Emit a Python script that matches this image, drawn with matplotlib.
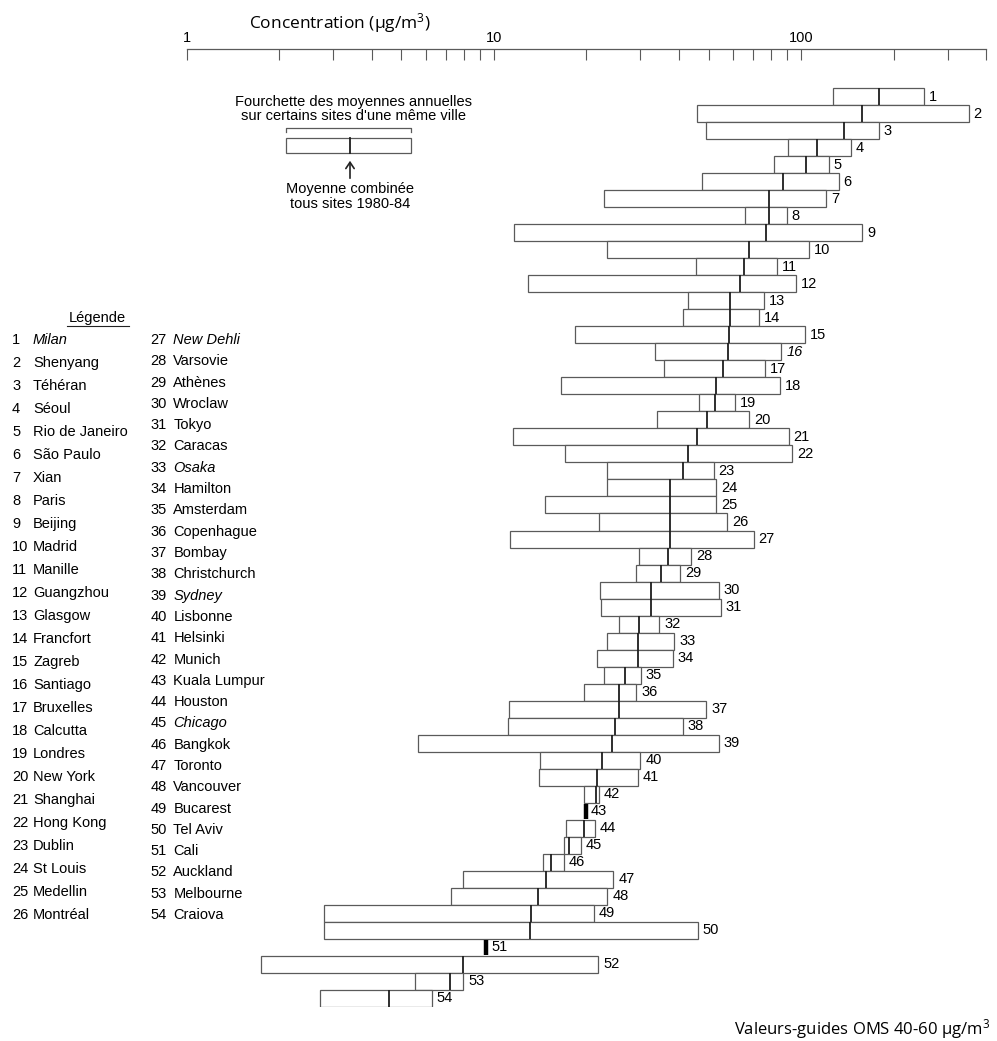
import numpy as np
import matplotlib
matplotlib.use("Agg")
import matplotlib.pyplot as plt
from matplotlib.patches import Rectangle
from matplotlib.ticker import FixedLocator, FixedFormatter, NullFormatter

plt.rcParams['font.family'] = ['Liberation Sans', 'DejaVu Sans']
plt.rcParams['mathtext.fontset'] = 'custom'
plt.rcParams['mathtext.rm'] = 'Open Sans'
plt.rcParams['mathtext.it'] = 'Open Sans:italic'

# ---------------- data ----------------
cities = ["Milan", "Shenyang", "Téhéran", "Séoul", "Rio de Janeiro", "São Paulo",
          "Xian", "Paris", "Beijing", "Madrid", "Manille", "Guangzhou", "Glasgow",
          "Francfort", "Zagreb", "Santiago", "Bruxelles", "Calcutta", "Londres",
          "New York", "Shanghai", "Hong Kong", "Dublin", "St Louis", "Medellin",
          "Montréal", "New Dehli", "Varsovie", "Athènes", "Wroclaw", "Tokyo",
          "Caracas", "Osaka", "Hamilton", "Amsterdam", "Copenhague", "Bombay",
          "Christchurch", "Sydney", "Lisbonne", "Helsinki", "Munich",
          "Kuala Lumpur", "Houston", "Chicago", "Bangkok", "Toronto", "Vancouver",
          "Bucarest", "Tel Aviv", "Cali", "Auckland", "Melbourne", "Craiova"]

vmin = [126.7, 46.0, 49.1, 90.4, 81.4, 47.5, 22.9, 65.5, 11.6, 23.4,
        45.5, 12.9, 42.8, 41.2, 18.4, 33.5, 35.8, 16.5, 46.6, 34.0,
        11.5, 17.0, 23.3, 23.3, 14.7, 22.0, 11.3, 29.7, 29.1, 22.2,
        22.3, 25.6, 23.3, 21.7, 22.8, 19.6, 11.2, 11.1, 5.68, 14.1,
        14.0, 19.7, 19.9, 17.2, 16.9, 14.5, 7.96, 7.24, 2.80, 2.80,
        9.46, 1.75, 5.54, 2.72]

vmean = [178.9, 158.0, 138.4, 112.8, 103.5, 87.4, 78.8, 78.8, 77.1, 67.7,
         65.2, 63.1, 58.9, 58.9, 58.4, 57.8, 55.5, 53.0, 52.5, 49.5,
         45.8, 42.7, 41.3, 37.5, 37.5, 37.5, 37.5, 37.0, 35.1, 32.5,
         32.4, 29.7, 29.5, 29.5, 26.7, 25.6, 25.6, 24.8, 24.3, 22.5,
         21.7, 21.5, 19.9, 19.6, 17.6, 15.3, 14.8, 13.9, 13.2, 13.1,
         9.46, 7.93, 7.21, 4.57]

vmax = [252.1, 351.5, 178.9, 145.5, 123.0, 132.6, 120.6, 90.0, 158.0, 105.9,
        83.5, 96.5, 75.9, 73.0, 103.3, 86.3, 76.5, 85.6, 60.8, 67.7,
        91.1, 93.5, 51.9, 53.0, 53.0, 57.4, 70.1, 43.9, 40.5, 53.9,
        54.9, 34.6, 38.7, 38.2, 30.1, 29.1, 49.1, 41.3, 53.9, 30.0,
        29.4, 22.0, 19.9, 21.3, 19.2, 16.9, 24.5, 23.4, 21.2, 46.2,
        9.46, 21.9, 7.96, 6.28]

italic_names = ["Milan", "New Dehli", "Osaka", "Sydney", "Chicago"]
italic_bar_labels = [16]

major_ticks = [1, 10, 100]
major_labels = ["1", "10", "100"]
minor_ticks = [2, 3, 4, 5, 6, 7, 8, 9, 20, 30, 40, 50, 60, 70, 80, 90, 200, 300, 400]

# ---------------- figure ----------------
W, H = 997, 1041
fig = plt.figure(figsize=(W / 100, H / 100), dpi=100)

EDGE = '#5a5a5a'
DARK = '#1e1e1e'
FS = 10.5

ax = fig.add_axes([186.7 / W, 1 - 1007 / H, (986 - 186.7) / W, (1007 - 49) / H])
ax.set_xscale('log')
ax.set_xlim(1, 400)
n = len(cities)
pos = np.arange(n)
ax.set_ylim(n, -39 / 17)

vmin_a = np.array(vmin)
vmax_a = np.array(vmax)
vmean_a = np.array(vmean)
span = vmax_a - vmin_a
box = span > 0
ax.barh(pos[box] + 0.5, span[box], left=vmin_a[box], height=1.0,
        color='white', edgecolor=EDGE, linewidth=0.9, zorder=2)
ax.vlines(vmean_a[box], pos[box], pos[box] + 1, color=DARK, linewidth=1.3, zorder=3)
ax.vlines(vmean_a[~box], pos[~box] + 0.05, pos[~box] + 0.95, color='black',
          linewidth=3.2, zorder=3)

for i in range(n):
    ax.annotate(str(i + 1), xy=(vmax_a[i], pos[i] + 0.5), xytext=(3.5, 0),
                textcoords='offset points', ha='left', va='center', fontsize=FS,
                fontstyle='italic' if (i + 1) in italic_bar_labels else 'normal')

ax.xaxis.tick_top()
ax.xaxis.set_major_locator(FixedLocator(major_ticks))
ax.xaxis.set_major_formatter(FixedFormatter(major_labels))
ax.xaxis.set_minor_locator(FixedLocator(minor_ticks))
ax.xaxis.set_minor_formatter(NullFormatter())
ax.tick_params(axis='x', which='both', direction='in', length=8, width=0.8,
               color=EDGE, top=True, bottom=False, labeltop=True,
               labelbottom=False, pad=3, labelsize=FS)
ax.set_yticks([])
for s in ['left', 'right', 'bottom']:
    ax.spines[s].set_visible(False)
ax.spines['top'].set_color(EDGE)
ax.spines['top'].set_linewidth(0.9)
ax.patch.set_visible(False)

# ---------------- overlay (pixel coords) ----------------
ov = fig.add_axes([0, 0, 1, 1])
ov.set_xlim(0, W)
ov.set_ylim(H, 0)
ov.axis('off')
ov.patch.set_visible(False)

ov.text(249, 23, "Concentration (μg/m$^3$)", fontfamily='Open Sans', fontsize=12.5,
        ha='left', va='center')
ov.text(990, 1029, "Valeurs-guides OMS 40-60 μg/m$^3$", fontfamily='Open Sans',
        fontsize=12, ha='right', va='center')

# explanatory key
ov.text(353, 102, "Fourchette des moyennes annuelles", ha='center', va='center', fontsize=FS)
ov.text(353, 116, "sur certains sites d'une même ville", ha='center', va='center', fontsize=FS)
ov.plot([286, 286, 410.7, 410.7], [132, 128.3, 128.3, 132], color=EDGE, lw=0.9)
ov.add_patch(Rectangle((286, 138.3), 124.7, 15, fill=False, ec=EDGE, lw=0.9))
ov.plot([350, 350], [138.3, 153.3], color=DARK, lw=1.3)
ov.annotate('', xy=(350, 158), xytext=(350, 181),
            arrowprops=dict(arrowstyle='->,head_length=0.45,head_width=0.3',
                            color='#222', lw=1.2))
ov.text(350, 189, "Moyenne combinée", ha='center', va='center', fontsize=FS)
ov.text(350, 204, "tous sites 1980-84", ha='center', va='center', fontsize=FS)

# city legend
ov.text(97.7, 318, "Légende", ha='center', va='center', fontsize=FS)
ov.plot([67, 128.5], [326, 326], color='#222', lw=0.8)
for i, name in enumerate(cities):
    st = 'italic' if name in italic_names else 'normal'
    if i < 26:
        y = 340 + i * 23.0
        xn, xc = 12, 33
    else:
        y = 340 + (i - 26) * 21.3
        xn, xc = 150.7, 173.3
    ov.text(xn, y, str(i + 1), ha='left', va='center', fontsize=FS)
    ov.text(xc, y, name, ha='left', va='center', fontsize=FS, fontstyle=st)

fig.savefig("out.png", dpi=100)
